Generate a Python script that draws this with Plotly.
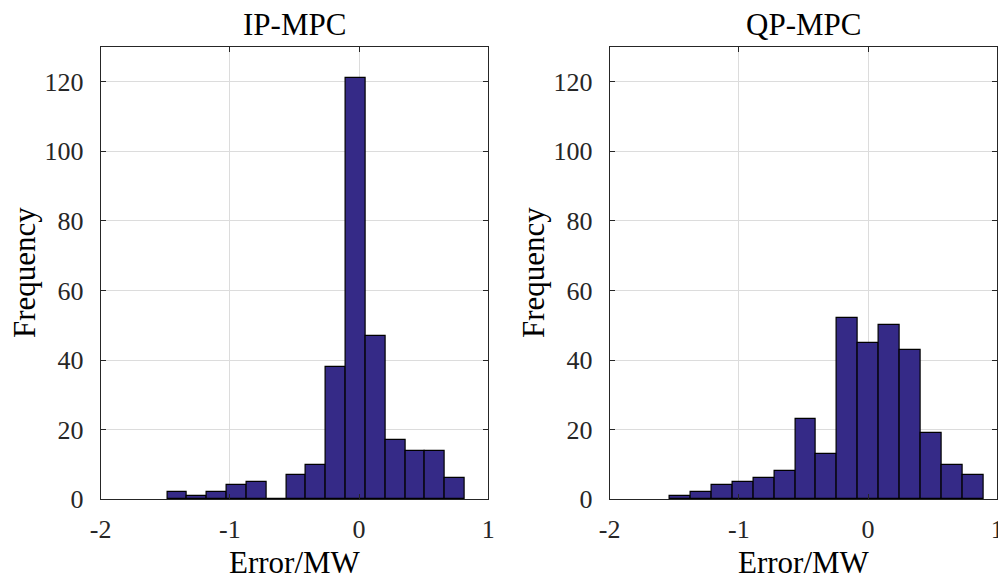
import plotly.graph_objects as go

# ---- data ----
ip_edges = [-1.485, -1.3315, -1.178, -1.0245, -0.871, -0.7175, -0.564, -0.4105,
            -0.257, -0.1035, 0.050, 0.2035, 0.357, 0.5105, 0.664, 0.8175]
ip_counts = [2, 1, 2, 4, 5, 0, 7, 10, 38, 121, 47, 17, 14, 14, 6]

qp_edges = [-1.536, -1.374, -1.212, -1.050, -0.888, -0.726, -0.564, -0.402,
            -0.240, -0.078, 0.084, 0.246, 0.408, 0.570, 0.732, 0.894]
qp_counts = [1, 2, 4, 5, 6, 8, 23, 13, 52, 45, 50, 43, 19, 10, 7]

titles = ["IP-MPC", "QP-MPC"]
x_label = "Error/MW"
y_label = "Frequency"
x_ticks = [-2, -1, 0, 1]
y_ticks = [0, 20, 40, 60, 80, 100, 120]

W, H = 998, 578
FONT = "Liberation Serif, Times New Roman, serif"
BAR = "#352A87"
AX = "#262626"
GRID = "#DCDCDC"

dom_x = [[100.7 / W, 488.3 / W], [609.7 / W, 997.3 / W]]
dom_y = [(H - 499.3) / H, (H - 47) / H]

fig = go.Figure()
for i, (edges, counts) in enumerate([(ip_edges, ip_counts), (qp_edges, qp_counts)]):
    centers = [(edges[k] + edges[k + 1]) / 2 for k in range(len(counts))]
    widths = [edges[k + 1] - edges[k] for k in range(len(counts))]
    sfx = "" if i == 0 else "2"
    fig.add_trace(go.Bar(
        x=centers, y=counts, width=widths,
        marker=dict(color=BAR, line=dict(color="#000000", width=1.2)),
        xaxis="x" + sfx, yaxis="y" + sfx, showlegend=False,
    ))

axis_common = dict(
    showline=True, linecolor=AX, linewidth=1, mirror="ticks",
    ticks="inside", ticklen=5, tickcolor=AX, tickwidth=1,
    showgrid=True, gridcolor=GRID, gridwidth=1, zeroline=False,
    tickfont=dict(family=FONT, size=26, color=AX), automargin=False,
    ticklabeloverflow="allow",
)

layout = dict(
    width=W, height=H, margin=dict(l=0, r=0, t=0, b=0),
    paper_bgcolor="white", plot_bgcolor="white", bargap=0,
    font=dict(family=FONT),
)
for i in range(2):
    sfx = "" if i == 0 else "2"
    layout["xaxis" + sfx] = dict(
        axis_common, domain=dom_x[i], range=[-2, 1], tickvals=x_ticks,
        ticktext=[str(v) for v in x_ticks], anchor="y" + sfx, ticklabelstandoff=6,
    )
    layout["yaxis" + sfx] = dict(
        axis_common, domain=dom_y, range=[0, 130], tickvals=y_ticks,
        anchor="x" + sfx, ticklabelstandoff=11,
    )
fig.update_layout(**layout)

anns = []
for i in range(2):
    cx = (dom_x[i][0] + dom_x[i][1]) / 2
    anns.append(dict(text=titles[i], xref="paper", yref="paper", x=cx, y=(H - 25) / H,
                     xanchor="center", yanchor="middle", showarrow=False,
                     font=dict(family=FONT, size=31, color="#000000")))
    anns.append(dict(text=x_label, xref="paper", yref="paper", x=cx, y=(H - 562) / H,
                     xanchor="center", yanchor="middle", showarrow=False,
                     font=dict(family=FONT, size=31, color="#000000")))
    lx = (24 if i == 0 else 533) / W
    anns.append(dict(text=y_label, xref="paper", yref="paper", x=lx, y=(H - 273) / H,
                     xanchor="center", yanchor="middle", textangle=-90, showarrow=False,
                     font=dict(family=FONT, size=31, color="#000000")))
fig.update_layout(annotations=anns)

fig.write_html("out.html", config={"displayModeBar": False},
               post_script="document.body.style.margin='0';document.body.style.padding='0';"
                           "document.body.style.overflow='hidden';")
